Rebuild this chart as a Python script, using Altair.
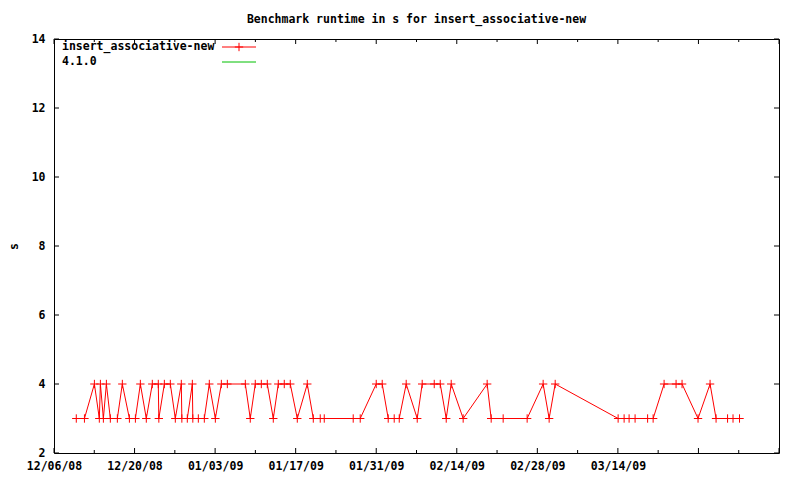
import altair as alt
import pandas as pd

chart_title = "Benchmark runtime in s for insert_associative-new"
series_names = ["insert_associative-new", "4.1.0"]
series_colors = ["#ff0000", "#00c000"]
y_title = "s"

dates = [
    "2008-12-09T21:00:00", "2008-12-11T07:00:00", "2008-12-13T00:30:00", "2008-12-13T21:00:00",
    "2008-12-14T01:30:00", "2008-12-14T14:00:00", "2008-12-15T02:30:00", "2008-12-15T19:00:00",
    "2008-12-17T00:15:00", "2008-12-17T21:00:00", "2008-12-19T02:30:00", "2008-12-20T03:30:00",
    "2008-12-21T00:15:00", "2008-12-22T01:00:00", "2008-12-23T02:00:00", "2008-12-24T03:00:00",
    "2008-12-24T05:15:00", "2008-12-25T04:15:00", "2008-12-26T05:15:00", "2008-12-27T02:00:00",
    "2008-12-28T03:00:00", "2008-12-28T05:15:00", "2008-12-29T04:00:00", "2008-12-30T01:00:00",
    "2008-12-30T03:00:00", "2008-12-31T02:00:00", "2009-01-01T03:00:00", "2009-01-01T23:45:00",
    "2009-01-03T01:00:00", "2009-01-04T02:00:00", "2009-01-05T03:00:00", "2009-01-08T06:00:00",
    "2009-01-09T02:40:00", "2009-01-09T23:30:00", "2009-01-11T00:45:00", "2009-01-12T01:40:00",
    "2009-01-13T02:40:00", "2009-01-13T23:30:00", "2009-01-15T00:30:00", "2009-01-16T01:30:00",
    "2009-01-17T06:45:00", "2009-01-19T00:30:00", "2009-01-20T01:30:00", "2009-01-21T06:30:00",
    "2009-01-21T23:15:00", "2009-01-27T00:00:00", "2009-01-28T05:15:00", "2009-01-31T00:00:00",
    "2009-02-01T01:00:00", "2009-02-02T02:00:00", "2009-02-03T03:00:00", "2009-02-04T00:00:00",
    "2009-02-05T05:00:00", "2009-02-07T03:00:00", "2009-02-07T23:45:00", "2009-02-10T02:00:00",
    "2009-02-11T03:00:00", "2009-02-12T04:00:00", "2009-02-13T00:45:00", "2009-02-15T02:40:00",
    "2009-02-19T06:45:00", "2009-02-19T23:30:00", "2009-02-22T01:30:00", "2009-02-26T05:30:00",
    "2009-03-01T00:15:00", "2009-03-02T01:15:00", "2009-03-03T02:30:00", "2009-03-14T01:00:00",
    "2009-03-15T02:00:00", "2009-03-15T22:45:00", "2009-03-16T23:45:00", "2009-03-19T04:00:00",
    "2009-03-20T03:00:00", "2009-03-22T00:45:00", "2009-03-24T02:40:00", "2009-03-25T03:40:00",
    "2009-03-27T22:20:00", "2009-03-30T00:30:00", "2009-03-31T01:30:00", "2009-04-02T01:30:00",
    "2009-04-03T00:15:00", "2009-04-04T03:20:00",
]
values = [
    3, 3, 4, 3,
    4, 3, 4, 3,
    3, 4, 3, 3,
    4, 3, 4, 4,
    3, 4, 4, 3,
    4, 3, 3, 4,
    3, 3, 3, 4,
    3, 4, 4, 4,
    3, 4, 4, 4,
    3, 4, 4, 4,
    3, 4, 3, 3,
    3, 3, 3, 4,
    4, 3, 3, 3,
    4, 3, 4, 4,
    4, 3, 4, 3,
    4, 3, 3, 3,
    4, 3, 4, 3,
    3, 3, 3, 3,
    3, 4, 4, 4,
    3, 4, 3, 3,
    3, 3,
]

x_label_dates = ["2008-12-06", "2008-12-20", "2009-01-03", "2009-01-17",
                 "2009-01-31", "2009-02-14", "2009-02-28", "2009-03-14"]
x_major_ticks = x_label_dates + ["2009-03-28", "2009-04-11"]
x_minor_ticks = ["2008-12-13", "2008-12-27", "2009-01-10", "2009-01-24", "2009-02-07",
                 "2009-02-21", "2009-03-07", "2009-03-21", "2009-04-04"]
y_ticks = [2, 4, 6, 8, 10, 12, 14]
x_domain = ["2008-12-06", "2009-04-11"]
y_domain = [2, 14]

W, H = 725, 414
FONT = "DejaVu Sans Mono"
FS = 11.5


def dt(s):
    y, m, d = (int(p) for p in s.split("-"))
    return alt.DateTime(year=y, month=m, date=d)


df = pd.DataFrame({"date": dates, "value": values})
df_major = pd.DataFrame({"date": [d + "T00:00:00" for d in x_major_ticks]})
df_minor = pd.DataFrame({"date": [d + "T00:00:00" for d in x_minor_ticks]})
df_y = pd.DataFrame({"value": y_ticks})

xscale = alt.Scale(domain=[dt(d) for d in x_domain], nice=False)
yscale = alt.Scale(domain=y_domain, nice=False, zero=False)

xaxis = alt.Axis(values=[dt(d) for d in x_label_dates], format="%m/%d/%y", ticks=False, tickSize=0,
                 domain=False, grid=False, labelFlush=False, labelOverlap=False,
                 labelFont=FONT, labelFontSize=FS, labelFontWeight="bold", labelColor="black",
                 labelPadding=7)
yaxis = alt.Axis(values=y_ticks, ticks=False, tickSize=0, domain=False, grid=False,
                 labelFont=FONT, labelFontSize=FS, labelFontWeight="bold", labelColor="black",
                 labelPadding=9, titleFont=FONT, titleFontSize=FS, titleFontWeight="bold",
                 titleColor="black", titleX=-40, titleY=H / 2, titleAngle=270,
                 titleAlign="center", titleBaseline="middle")

X = alt.X("date:T", scale=xscale, axis=xaxis, title=None)
Y = alt.Y("value:Q", scale=yscale, axis=yaxis, title=y_title)

red = series_colors[0]
green = series_colors[1]
plus = "M-1,0L1,0M0,-1L0,1"

line = alt.Chart(df).mark_line(color=red, strokeWidth=1).encode(x=X, y=Y)
pts = alt.Chart(df).mark_point(shape=plus, filled=False, color=red, size=70,
                               strokeWidth=1, opacity=1).encode(x=X, y=Y)

xmaj_b = alt.Chart(df_major).mark_rule(color="black", strokeWidth=1).encode(
    x=X, y=alt.value(H), y2=alt.value(H - 5))
xmaj_t = alt.Chart(df_major).mark_rule(color="black", strokeWidth=1).encode(
    x=X, y=alt.value(0), y2=alt.value(5))
xmin_b = alt.Chart(df_minor).mark_rule(color="black", strokeWidth=1).encode(
    x=X, y=alt.value(H), y2=alt.value(H - 3))
xmin_t = alt.Chart(df_minor).mark_rule(color="black", strokeWidth=1).encode(
    x=X, y=alt.value(0), y2=alt.value(3))
y_l = alt.Chart(df_y).mark_rule(color="black", strokeWidth=1).encode(
    y=Y, x=alt.value(0), x2=alt.value(5))
y_r = alt.Chart(df_y).mark_rule(color="black", strokeWidth=1).encode(
    y=Y, x=alt.value(W - 5), x2=alt.value(W))

leg1 = pd.DataFrame({"name": [series_names[0]]})
leg2 = pd.DataFrame({"name": [series_names[1]]})
txt1 = alt.Chart(leg1).mark_text(align="left", baseline="middle", font=FONT, fontSize=FS,
                                 fontWeight="bold", color="black").encode(
    x=alt.value(8), y=alt.value(8), text="name:N")
txt2 = alt.Chart(leg2).mark_text(align="left", baseline="middle", font=FONT, fontSize=FS,
                                 fontWeight="bold", color="black").encode(
    x=alt.value(8), y=alt.value(23), text="name:N")
lr1 = alt.Chart(leg1).mark_rule(color=red, strokeWidth=1).encode(
    x=alt.value(168), x2=alt.value(202), y=alt.value(8))
lp1 = alt.Chart(leg1).mark_point(shape=plus, filled=False, color=red, size=70,
                                 strokeWidth=1, opacity=1).encode(
    x=alt.value(185), y=alt.value(8))
lr2 = alt.Chart(leg2).mark_rule(color=green, strokeWidth=1).encode(
    x=alt.value(168), x2=alt.value(202), y=alt.value(23))

chart = alt.layer(
    line, pts, xmaj_b, xmaj_t, xmin_b, xmin_t, y_l, y_r, txt1, txt2, lr1, lp1, lr2
).properties(
    width=W, height=H,
    title=alt.TitleParams(chart_title, font=FONT, fontSize=FS, fontWeight="bold",
                          color="black", anchor="middle", offset=8),
    autosize=alt.AutoSizeParams(type="none"),
    padding={"left": 46, "top": 31, "right": 13, "bottom": 19},
    background="white",
).configure_view(stroke="black", strokeWidth=1)

chart.save("out.html", embed_options={"renderer": "svg", "actions": False})
